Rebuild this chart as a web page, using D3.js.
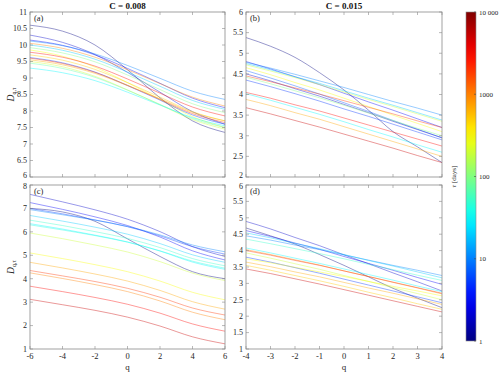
<!DOCTYPE html>
<html>
<head>
<meta charset="utf-8">
<script src="https://cdn.jsdelivr.net/npm/d3@7"></script>
<style>
  body { margin: 0; background: #fff; }
</style>
</head>
<body>
<svg id="chart" width="500" height="374" font-family="'Liberation Serif', 'Times New Roman', serif"></svg>
<script>
// data: D_{q,tau} vs q, one line per tau
const qWide = [-6, -4, -2, 0, 2, 4, 6];
const qNarrow = [-4, -3, -2, -1, 0, 1, 2, 3, 4];

const tauA = [1, 2, 3, 10, 20, 1000, 300, 3000, 5, 2000, 700, 200, 70, 30, 500, 100];
const valuesA = [
  [10.6, 10.42, 10.0, 9.25, 8.4, 7.7, 7.35],
  [10.3, 10.08, 9.71, 9.17, 8.57, 7.98, 7.6],
  [10.15, 9.99, 9.7, 9.29, 8.84, 8.39, 8.1],
  [10.12, 9.98, 9.73, 9.38, 8.99, 8.6, 8.35],
  [10.0, 9.84, 9.57, 9.18, 8.75, 8.32, 8.05],
  [10.05, 9.9, 9.63, 9.25, 8.83, 8.42, 8.15],
  [9.85, 9.66, 9.33, 8.86, 8.35, 7.83, 7.5],
  [9.78, 9.63, 9.36, 8.97, 8.54, 8.12, 7.85],
  [9.62, 9.46, 9.18, 8.77, 8.33, 7.88, 7.6],
  [9.6, 9.44, 9.17, 8.78, 8.35, 7.92, 7.65],
  [9.55, 9.4, 9.14, 8.77, 8.37, 7.96, 7.7],
  [9.5, 9.34, 9.05, 8.64, 8.19, 7.74, 7.45],
  [9.45, 9.29, 9.02, 8.63, 8.2, 7.77, 7.5],
  [9.3, 9.16, 8.92, 8.57, 8.18, 7.8, 7.55],
  [9.7, 9.54, 9.26, 8.86, 8.42, 7.98, 7.7],
  [9.92, 9.76, 9.49, 9.09, 8.65, 8.22, 7.95]
];

const tauB = [1, 3, 10, 200, 300, 7, 2, 2000, 100, 5, 3000, 30, 700, 5000, 20];
const valuesB = [
  [5.38, 5.17, 4.9, 4.53, 4.11, 3.62, 3.1, 2.73, 2.35],
  [4.8, 4.62, 4.43, 4.24, 4.03, 3.82, 3.62, 3.41, 3.2],
  [4.78, 4.64, 4.49, 4.33, 4.17, 4.0, 3.83, 3.67, 3.5],
  [4.72, 4.57, 4.41, 4.24, 4.06, 3.88, 3.71, 3.53, 3.35],
  [4.65, 4.48, 4.29, 4.11, 3.91, 3.71, 3.5, 3.3, 3.1],
  [4.58, 4.4, 4.21, 4.01, 3.8, 3.59, 3.37, 3.16, 2.95],
  [4.5, 4.33, 4.14, 3.96, 3.76, 3.56, 3.35, 3.15, 2.95],
  [4.45, 4.31, 4.16, 4.01, 3.85, 3.69, 3.53, 3.36, 3.2],
  [4.42, 4.26, 4.09, 3.92, 3.74, 3.55, 3.37, 3.18, 3.0],
  [4.35, 4.19, 4.02, 3.84, 3.65, 3.47, 3.28, 3.09, 2.9],
  [4.05, 3.91, 3.75, 3.6, 3.43, 3.26, 3.09, 2.92, 2.75],
  [4.02, 3.86, 3.69, 3.52, 3.34, 3.15, 2.97, 2.78, 2.6],
  [3.88, 3.73, 3.56, 3.4, 3.22, 3.04, 2.86, 2.68, 2.5],
  [3.68, 3.53, 3.37, 3.21, 3.04, 2.87, 2.7, 2.52, 2.35],
  [4.75, 4.6, 4.43, 4.27, 4.09, 3.91, 3.74, 3.56, 3.38]
];

const tauC = [1, 2, 3, 5, 10, 20, 50, 30, 40, 200, 300, 700, 2000, 1000, 3000, 5000];
const valuesC = [
  [7.0, 6.85, 6.45, 5.7, 4.95, 4.3, 4.0],
  [7.6, 7.28, 6.94, 6.54, 6.01, 5.37, 4.95],
  [7.25, 6.96, 6.64, 6.27, 5.78, 5.19, 4.8],
  [7.0, 6.77, 6.51, 6.22, 5.83, 5.37, 5.05],
  [6.95, 6.73, 6.5, 6.23, 5.87, 5.44, 5.15],
  [6.7, 6.46, 6.2, 5.9, 5.5, 5.02, 4.7],
  [6.5, 6.27, 6.01, 5.72, 5.33, 4.86, 4.55],
  [6.35, 6.12, 5.86, 5.57, 5.18, 4.71, 4.4],
  [6.3, 6.08, 5.84, 5.56, 5.19, 4.75, 4.45],
  [5.95, 5.71, 5.44, 5.14, 4.73, 4.24, 3.92],
  [5.1, 4.86, 4.6, 4.3, 3.9, 3.42, 3.1],
  [4.7, 4.46, 4.2, 3.9, 3.5, 3.02, 2.7],
  [4.35, 4.12, 3.88, 3.59, 3.21, 2.75, 2.45],
  [4.25, 4.01, 3.75, 3.45, 3.05, 2.57, 2.25],
  [3.68, 3.45, 3.2, 2.91, 2.53, 2.07, 1.76],
  [3.12, 2.89, 2.65, 2.36, 1.98, 1.52, 1.22]
];

const tauD = [1, 2, 3, 10, 20, 50, 30, 1000, 2000, 200, 5, 300, 700, 500, 5000];
const valuesD = [
  [4.69, 4.45, 4.2, 3.88, 3.55, 3.2, 2.85, 2.55, 2.26],
  [4.89, 4.66, 4.4, 4.15, 3.87, 3.6, 3.32, 3.05, 2.77],
  [4.61, 4.43, 4.23, 4.04, 3.82, 3.61, 3.4, 3.18, 2.97],
  [4.45, 4.32, 4.17, 4.03, 3.87, 3.71, 3.55, 3.4, 3.24],
  [4.54, 4.39, 4.22, 4.06, 3.88, 3.7, 3.53, 3.35, 3.17],
  [4.35, 4.21, 4.06, 3.91, 3.75, 3.58, 3.42, 3.25, 3.09],
  [4.08, 3.93, 3.77, 3.61, 3.44, 3.27, 3.1, 2.92, 2.75],
  [4.03, 3.88, 3.72, 3.56, 3.38, 3.21, 3.03, 2.86, 2.68],
  [4.0, 3.86, 3.7, 3.55, 3.38, 3.21, 3.04, 2.87, 2.7],
  [3.93, 3.77, 3.6, 3.43, 3.24, 3.06, 2.87, 2.69, 2.5],
  [3.8, 3.65, 3.48, 3.31, 3.13, 2.95, 2.77, 2.59, 2.41],
  [3.75, 3.63, 3.49, 3.35, 3.21, 3.06, 2.91, 2.77, 2.62],
  [3.65, 3.51, 3.35, 3.2, 3.03, 2.86, 2.7, 2.53, 2.36],
  [3.55, 3.4, 3.24, 3.08, 2.91, 2.73, 2.56, 2.38, 2.21],
  [3.44, 3.3, 3.14, 2.98, 2.81, 2.64, 2.47, 2.3, 2.13]
];

const yTicksA = d3.range(6, 11.01, 0.5);
const yTicksB = d3.range(2, 6.01, 0.5);
const yTicksC = d3.range(1, 8.01, 1);
const yTicksD = d3.range(1, 6.01, 0.5);
const xTicksWide = [-6, -4, -2, 0, 2, 4, 6];
const xTicksNarrow = [-4, -3, -2, -1, 0, 1, 2, 3, 4];
const cbTicks = [1, 10, 100, 1000, 10000];
const cbLabels = ["1", "10", "100", "1000", "10 000"];

const svg = d3.select("#chart");

// matlab jet colormap
function jet(t) {
  const c = v => Math.round(255 * Math.max(0, Math.min(1, v)));
  return d3.rgb(c(1.5 - Math.abs(4 * t - 3)), c(1.5 - Math.abs(4 * t - 2)), c(1.5 - Math.abs(4 * t - 1)));
}
const tauScale = d3.scaleLog().domain([1, 10000]).range([0, 1]);
const tauColor = tau => jet(tauScale(tau));

const fmt = v => (Math.round(v * 10) / 10).toString();

function panel(opt) {
  const x = d3.scaleLinear().domain(opt.xDomain).range([opt.left, opt.right]);
  const y = d3.scaleLinear().domain(opt.yDomain).range([opt.bottom, opt.top]);
  const g = svg.append("g");

  const line = d3.line()
    .x((d, i) => x(opt.q[i]))
    .y(d => y(d))
    .curve(d3.curveMonotoneX);

  g.selectAll("path.series")
    .data(opt.values)
    .join("path")
    .attr("class", "series")
    .attr("d", line)
    .attr("fill", "none")
    .attr("stroke", (d, i) => tauColor(opt.tau[i]))
    .attr("stroke-opacity", 0.45)
    .attr("stroke-width", 0.9);

  // box with inward ticks on all sides
  const tl = 3;
  const axCol = "#8a8a8a";
  g.append("rect")
    .attr("x", opt.left).attr("y", opt.top)
    .attr("width", opt.right - opt.left).attr("height", opt.bottom - opt.top)
    .attr("fill", "none").attr("stroke", axCol).attr("stroke-width", 0.8);

  opt.xTicks.forEach(t => {
    const px = x(t);
    g.append("line").attr("x1", px).attr("x2", px).attr("y1", opt.bottom).attr("y2", opt.bottom - tl)
      .attr("stroke", axCol).attr("stroke-width", 0.6);
    g.append("line").attr("x1", px).attr("x2", px).attr("y1", opt.top).attr("y2", opt.top + tl)
      .attr("stroke", axCol).attr("stroke-width", 0.6);
    if (opt.xLabels) {
      g.append("text").attr("x", px).attr("y", opt.bottom + 10)
        .attr("text-anchor", "middle").attr("font-size", 8.5).attr("fill", "#262626")
        .text(t < 0 ? "-" + Math.abs(t) : t);
    }
  });

  const [y0, y1] = opt.yDomain;
  opt.yTicks.forEach(t => {
    const py = y(t);
    g.append("line").attr("x1", opt.left).attr("x2", opt.left + tl).attr("y1", py).attr("y2", py)
      .attr("stroke", axCol).attr("stroke-width", 0.6);
    g.append("line").attr("x1", opt.right).attr("x2", opt.right - tl).attr("y1", py).attr("y2", py)
      .attr("stroke", axCol).attr("stroke-width", 0.6);
    // nudge end labels so stacked panels do not collide
    let dy = 2.8;
    if (t === y0 && opt.top < 100) dy = 1.2;
    if (t === y1 && opt.top > 100) dy = 4.2;
    g.append("text").attr("x", opt.left - 3).attr("y", py + dy)
      .attr("text-anchor", "end").attr("font-size", 8).attr("fill", "#262626")
      .text(fmt(t));
  });

  g.append("text").attr("x", opt.left + 4).attr("y", opt.top + 9)
    .attr("font-size", 8.5).attr("fill", "#262626").text(opt.tag);

  if (opt.title) {
    g.append("text").attr("x", (opt.left + opt.right) / 2).attr("y", opt.top - 3)
      .attr("text-anchor", "middle").attr("font-size", 9).attr("font-weight", "bold")
      .attr("fill", "#111").text(opt.title);
  }

  if (opt.yLabel) {
    const cy = (opt.top + opt.bottom) / 2;
    const t = g.append("text")
      .attr("transform", `translate(${opt.left - 16},${cy}) rotate(-90)`)
      .attr("text-anchor", "middle").attr("font-size", 9.5).attr("fill", "#262626");
    t.append("tspan").attr("font-style", "italic").text("D");
    t.append("tspan").attr("font-size", 6).attr("dy", 2).text("q,τ");
  }

  if (opt.xLabels) {
    g.append("text").attr("x", (opt.left + opt.right) / 2).attr("y", opt.bottom + 21)
      .attr("text-anchor", "middle").attr("font-size", 9).attr("fill", "#262626").text("q");
  }
}

panel({ left: 30, right: 225, top: 12, bottom: 177, xDomain: [-6, 6], yDomain: [6, 11],
  q: qWide, tau: tauA, values: valuesA, xTicks: xTicksWide, yTicks: yTicksA,
  tag: "(a)", title: "C = 0.008", yLabel: true });
panel({ left: 246, right: 442, top: 12, bottom: 177, xDomain: [-4, 4], yDomain: [2, 6],
  q: qNarrow, tau: tauB, values: valuesB, xTicks: xTicksNarrow, yTicks: yTicksB,
  tag: "(b)", title: "C = 0.015" });
panel({ left: 30, right: 225, top: 185, bottom: 349, xDomain: [-6, 6], yDomain: [1, 8],
  q: qWide, tau: tauC, values: valuesC, xTicks: xTicksWide, yTicks: yTicksC,
  tag: "(c)", yLabel: true, xLabels: true });
panel({ left: 246, right: 442, top: 185, bottom: 349, xDomain: [-4, 4], yDomain: [1, 6],
  q: qNarrow, tau: tauD, values: valuesD, xTicks: xTicksNarrow, yTicks: yTicksD,
  tag: "(d)", xLabels: true });

// colorbar
const cb = { left: 466, right: 476, top: 12, bottom: 341 };
const cbY = d3.scaleLog().domain([1, 10000]).range([cb.bottom, cb.top]);
const defs = svg.append("defs");
const grad = defs.append("linearGradient").attr("id", "jetgrad")
  .attr("x1", 0).attr("y1", 1).attr("x2", 0).attr("y2", 0);
d3.range(0, 1.0001, 0.05).forEach(t => {
  grad.append("stop").attr("offset", t).attr("stop-color", jet(t));
});
svg.append("rect")
  .attr("x", cb.left).attr("y", cb.top)
  .attr("width", cb.right - cb.left).attr("height", cb.bottom - cb.top)
  .attr("fill", "url(#jetgrad)").attr("stroke", "#8a8a8a").attr("stroke-width", 0.6);
cbTicks.forEach((t, i) => {
  const py = cbY(t);
  svg.append("line").attr("x1", cb.right).attr("x2", cb.right - 2).attr("y1", py).attr("y2", py)
    .attr("stroke", "#444").attr("stroke-width", 0.6);
  svg.append("text").attr("x", cb.right + 3).attr("y", py + 2.5)
    .attr("font-size", 7).attr("fill", "#262626").text(cbLabels[i]);
});
svg.append("text")
  .attr("transform", `translate(456,${(cb.top + cb.bottom) / 2}) rotate(-90)`)
  .attr("text-anchor", "middle").attr("font-size", 7).attr("fill", "#262626")
  .html('<tspan font-style="italic">τ</tspan> [days]');
</script>
</body>
</html>
